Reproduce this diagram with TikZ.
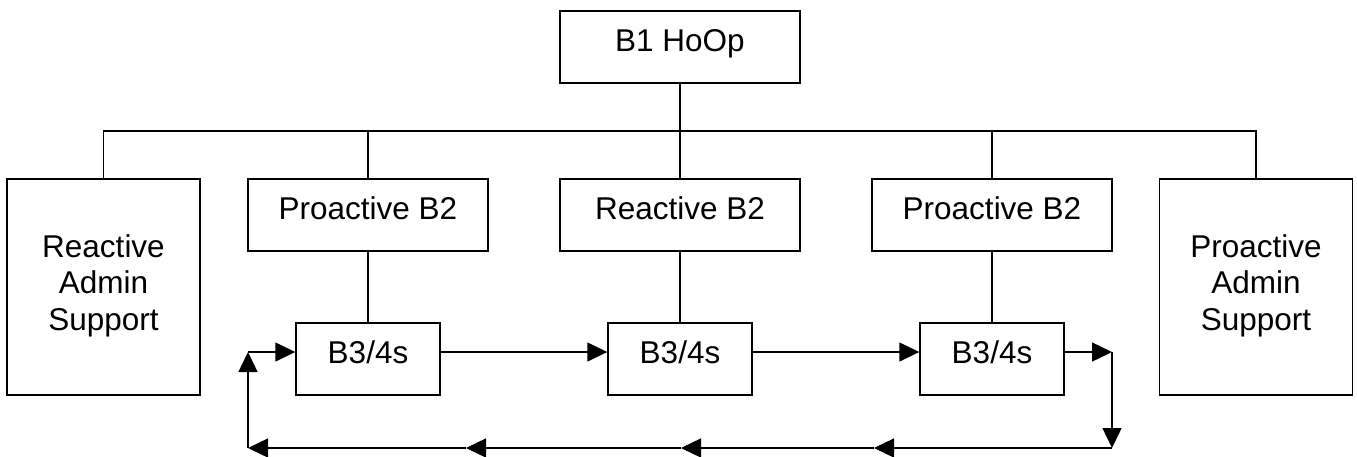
\documentclass[tikz,border=0pt]{standalone}
\usepackage{fontspec}
\setmainfont{Liberation Sans}
\usetikzlibrary{arrows.meta}
\tikzset{
  box/.style={draw, line width=1.4pt, inner sep=0pt, text height=40pt, text depth=32pt,
    font=\fontsize{31.5}{36.5}\selectfont},
  smallbox/.style={box, minimum width=144pt},
  midbox/.style={box, minimum width=240pt},
  tallbox/.style={draw, line width=1.4pt, inner sep=0pt, minimum width=193pt,
    text height=78pt, text depth=138pt, font=\fontsize{31.5}{36.5}\selectfont},
  conn/.style={line width=1.4pt},
  arr/.style={line width=1.4pt, -{Triangle[length=20pt,width=19pt]}}
}
\newcommand{\threelines}[3]{\setlength{\tabcolsep}{0pt}\begin{tabular}[t]{c}#1\\#2\\#3\end{tabular}}
\begin{document}
\begin{tikzpicture}[x=1pt,y=-1pt]
\useasboundingbox (0,0) rectangle (1357,456);
% nodes
\node[midbox] (B1) at (680,47) {B1 HoOp};
\node[tallbox] (RAS) at (103.5,287) {\threelines{Reactive}{Admin}{Support}};
\node[tallbox] (PAS) at (1256,287) {\threelines{Proactive}{Admin}{Support}};
\node[midbox] (PB2a) at (368,215) {Proactive B2};
\node[midbox] (RB2) at (680,215) {Reactive B2};
\node[midbox] (PB2b) at (992,215) {Proactive B2};
\node[smallbox] (B3a) at (368,359) {B3/4s};
\node[smallbox] (B3b) at (680,359) {B3/4s};
\node[smallbox] (B3c) at (992,359) {B3/4s};
% coordinates
\coordinate (bus) at (680,131);
\coordinate (row) at (0,352);
\coordinate (loopTL) at (248,352);
\coordinate (loopBL) at (248,448);
\coordinate (loopTR) at (1112,352);
\coordinate (loopBR) at (1112,448);
\coordinate (m1) at (874,448);
\coordinate (m2) at (681,448);
\coordinate (m3) at (466,448);
% tree connectors
\draw[conn] (B1.south) -- (RB2.north);
\draw[conn] (RAS.north) -- (RAS.north |- bus) -- (PAS.north |- bus) -- (PAS.north);
\draw[conn] (PB2a.north) -- (PB2a.north |- bus);
\draw[conn] (PB2b.north) -- (PB2b.north |- bus);
\draw[conn] (PB2a.south) -- (B3a.north);
\draw[conn] (RB2.south) -- (B3b.north);
\draw[conn] (PB2b.south) -- (B3c.north);
% loop arrows
\draw[arr] (B3a.east |- row) -- (B3b.west |- row);
\draw[arr] (B3b.east |- row) -- (B3c.west |- row);
\draw[arr] (B3c.east |- row) -- (loopTR);
\draw[arr] (loopTR) -- (loopBR);
\draw[arr] (loopBR) -- (m1);
\draw[arr] (m1) -- (m2);
\draw[arr] (m2) -- (m3);
\draw[arr] (m3) -- (loopBL);
\draw[arr] (loopBL) -- (loopTL);
\draw[arr] (loopTL) -- (B3a.west |- row);
\end{tikzpicture}
\end{document}
